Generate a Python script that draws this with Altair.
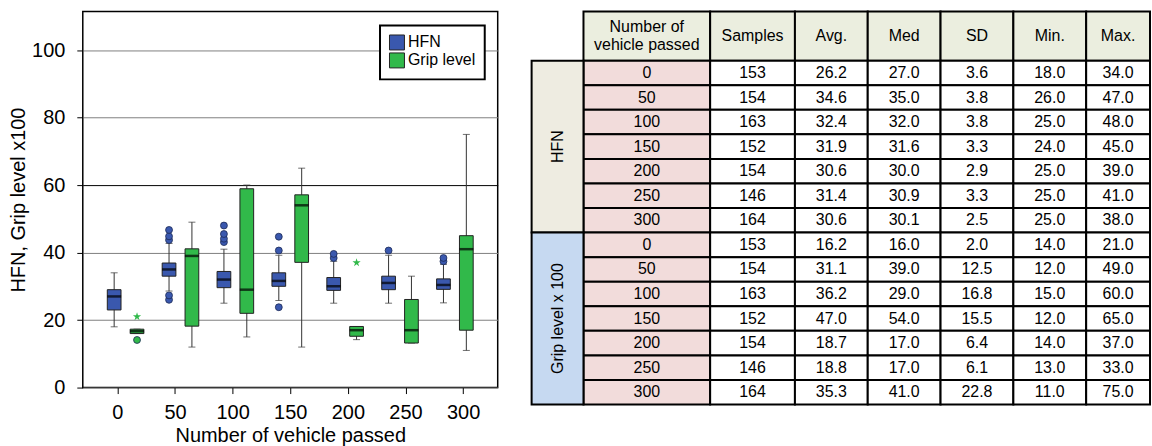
import altair as alt
import pandas as pd

# ---------------- data ----------------
vehicles = [0, 50, 100, 150, 200, 250, 300]
series_names = ["HFN", "Grip level"]
series_colors = ["#3A58AE", "#31B94A"]

# box plot statistics
hfn_q1 = [23.0, 33.0, 29.6, 30.0, 28.8, 29.0, 29.1]
hfn_q3 = [29.0, 36.9, 34.4, 34.0, 32.6, 33.0, 32.2]
hfn_median = [27.0, 35.0, 32.0, 31.6, 30.0, 31.0, 30.4]
hfn_whisk_lo = [18.0, 28.6, 25.0, 25.8, 25.0, 25.0, 25.1]
hfn_whisk_hi = [34.0, 42.7, 41.0, 39.2, 37.4, 39.2, 36.5]
hfn_outliers = [[], [26.0, 27.3, 43.7, 44.8, 46.7], [43.1, 44.1, 45.5, 48.0],
                [23.8, 40.6, 44.7], [38.4, 39.6], [40.6], [37.4, 38.4]]
hfn_extremes = [[], [], [], [], [], [], []]

grip_q1 = [16.0, 18.2, 22.0, 37.1, 15.2, 13.2, 17.0]
grip_q3 = [17.3, 41.1, 58.9, 57.1, 18.1, 26.1, 45.0]
grip_median = [16.7, 39.0, 29.0, 54.0, 17.0, 17.0, 41.0]
grip_whisk_lo = [16.0, 12.0, 15.0, 12.0, 14.2, 13.2, 11.0]
grip_whisk_hi = [17.3, 49.0, 60.0, 65.0, 18.1, 33.0, 75.0]
grip_outliers = [[14.1], [], [], [], [], [], []]
grip_extremes = [[21.0], [], [], [], [37.0], [], []]

x_tick_values = [0, 50, 100, 150, 200, 250, 300]
y_tick_values = [0, 20, 40, 60, 80, 100]

# table values
samples = [153, 154, 163, 152, 154, 146, 164]
hfn_avg = [26.2, 34.6, 32.4, 31.9, 30.6, 31.4, 30.6]
hfn_med = [27.0, 35.0, 32.0, 31.6, 30.0, 30.9, 30.1]
hfn_sd = [3.6, 3.8, 3.8, 3.3, 2.9, 3.3, 2.5]
hfn_min = [18.0, 26.0, 25.0, 24.0, 25.0, 25.0, 25.0]
hfn_max = [34.0, 47.0, 48.0, 45.0, 39.0, 41.0, 38.0]
grip_avg = [16.2, 31.1, 36.2, 47.0, 18.7, 18.8, 35.3]
grip_med = [16.0, 39.0, 29.0, 54.0, 17.0, 17.0, 41.0]
grip_sd = [2.0, 12.5, 16.8, 15.5, 6.4, 6.1, 22.8]
grip_min = [14.0, 12.0, 15.0, 12.0, 14.0, 13.0, 11.0]
grip_max = [21.0, 49.0, 60.0, 65.0, 37.0, 33.0, 75.0]
header_labels = ["Number of\nvehicle passed", "Samples", "Avg.", "Med", "SD", "Min.", "Max."]
group_labels = ["HFN", "Grip level x 100"]

# ---------------- box plot ----------------
FONT = "Liberation Sans"
box_rows, out_rows, ext_rows = [], [], []
stats = {
    "HFN": (hfn_q1, hfn_q3, hfn_median, hfn_whisk_lo, hfn_whisk_hi, hfn_outliers, hfn_extremes),
    "Grip level": (grip_q1, grip_q3, grip_median, grip_whisk_lo, grip_whisk_hi, grip_outliers, grip_extremes),
}
for i, v in enumerate(vehicles):
    for s in series_names:
        q1, q3, md, lo, hi, outs, exts = stats[s]
        box_rows.append(dict(group=v, series=s, q1=q1[i], q3=q3[i], med=md[i], lo=lo[i], hi=hi[i]))
        for o in outs[i]:
            out_rows.append(dict(group=v, series=s, val=o))
        for e in exts[i]:
            ext_rows.append(dict(group=v, series=s, val=e))
box_df = pd.DataFrame(box_rows)
out_df = pd.DataFrame(out_rows)
ext_df = pd.DataFrame(ext_rows)
tick_df = pd.DataFrame({"t": x_tick_values})

x_enc = alt.X("group:O", scale=alt.Scale(domain=vehicles, paddingOuter=0.28, paddingInner=0), axis=None)
xo_enc = alt.XOffset("series:N", scale=alt.Scale(domain=series_names, paddingInner=0.4, paddingOuter=0.4))
y_scale = alt.Scale(domain=[0, 111.4], nice=False, zero=True)
y_axis = alt.Axis(values=y_tick_values, title="HFN, Grip level x100", domain=False,
                  grid=True, gridWidth=1,
                  gridColor=alt.condition("datum.value == 60", alt.value("#000000"), alt.value("#808080")),
                  tickSize=6, tickColor="black", labelFontSize=20, labelColor="black",
                  labelPadding=12, titleFontSize=20, titleFontWeight="normal", titleColor="black",
                  titlePadding=3, labelFont=FONT, titleFont=FONT)


def yq(field):
    return alt.Y(field, type="quantitative", scale=y_scale, axis=y_axis)


legend = alt.Legend(title=None, orient="none", legendX=298, legendY=14, symbolType="square",
                    symbolSize=225, symbolStrokeColor="#222222", symbolStrokeWidth=1, symbolOpacity=1,
                    labelFontSize=16, labelFont=FONT, labelColor="black", labelOffset=3,
                    strokeColor="black", fillColor="white", padding=9, rowPadding=-4)
color_enc = alt.Color("series:N", scale=alt.Scale(domain=series_names, range=series_colors), legend=legend)

star = ("M0,-1 L0.224,-0.309 L0.951,-0.309 L0.363,0.118 L0.588,0.809 L0,0.382 "
        "L-0.588,0.809 L-0.363,0.118 L-0.951,-0.309 L-0.224,-0.309 Z")

base = alt.Chart(box_df)
whisk = base.mark_rule(color="#333333", strokeWidth=1).encode(x=x_enc, xOffset=xo_enc, y=yq("lo"), y2="hi:Q")
cap_lo = base.mark_tick(color="#333333", thickness=1, size=7).encode(x=x_enc, xOffset=xo_enc, y=yq("lo"))
cap_hi = base.mark_tick(color="#333333", thickness=1, size=7).encode(x=x_enc, xOffset=xo_enc, y=yq("hi"))
boxes = base.mark_bar(stroke="#222222", strokeWidth=1, opacity=1).encode(
    x=x_enc, xOffset=xo_enc, y=yq("q1"), y2="q3:Q", color=color_enc)
medians = base.mark_tick(color="black", thickness=2.5, size=14).encode(x=x_enc, xOffset=xo_enc, y=yq("med"))
outliers = alt.Chart(out_df).mark_point(filled=True, shape="circle", size=48, opacity=1,
                                        stroke="#1c2a55", strokeWidth=0.8).encode(
    x=x_enc, xOffset=xo_enc, y=yq("val"), color=color_enc)
extremes = alt.Chart(ext_df).mark_point(filled=True, shape=star, size=75, opacity=1).encode(
    x=x_enc, xOffset=xo_enc, y=yq("val"), color=color_enc)
axis_layer = alt.Chart(tick_df).mark_point(opacity=0, size=1).encode(
    x=alt.X("t:Q", scale=alt.Scale(domain=[-30, 330], nice=False, zero=False),
            axis=alt.Axis(values=x_tick_values, orient="bottom", title="Number of vehicle passed",
                          grid=False, domain=False, tickSize=6, tickColor="black",
                          labelFontSize=20, labelColor="black", labelPadding=9, labelFont=FONT,
                          titleFontSize=20, titleFontWeight="normal", titleColor="black",
                          titlePadding=3, titleFont=FONT)),
    y=alt.value(150))

left = alt.layer(whisk, cap_lo, cap_hi, boxes, medians, outliers, extremes, axis_layer).resolve_scale(
    x="independent").properties(width=416, height=377,
                                view=alt.ViewBackground(stroke="black", strokeWidth=1.5))

# ---------------- table ----------------
col_widths = [52, 127, 85, 73, 73, 73, 73, 64]
edges = [0]
for w in col_widths:
    edges.append(edges[-1] + w)


def cell(c0, c1, y0, y1, kind, text):
    return dict(x0=edges[c0], x1=edges[c1], y0=y0, y1=y1,
                xc=(edges[c0] + edges[c1]) / 2, yc=(y0 + y1) / 2, kind=kind, text=text)


cells = []
for j, lab in enumerate(header_labels):
    cells.append(cell(j + 1, j + 2, 0, 2, "header", lab))
groups = [
    ("hfn", samples, hfn_avg, hfn_med, hfn_sd, hfn_min, hfn_max),
    ("grip", samples, grip_avg, grip_med, grip_sd, grip_min, grip_max),
]
group_cells = []
for g, (kind, smp, av, md, sd, mn, mx) in enumerate(groups):
    top = 2 + g * 7
    group_cells.append(cell(0, 1, top, top + 7, kind, group_labels[g]))
    for i, v in enumerate(vehicles):
        r = top + i
        cells.append(cell(1, 2, r, r + 1, "veh", str(v)))
        vals = [str(smp[i]), f"{av[i]:.1f}", f"{md[i]:.1f}", f"{sd[i]:.1f}", f"{mn[i]:.1f}", f"{mx[i]:.1f}"]
        for k, t in enumerate(vals):
            cells.append(cell(2 + k, 3 + k, r, r + 1, "cell", t))
cell_df = pd.DataFrame(cells + group_cells)
all_text = pd.DataFrame(cells)
text_df = all_text[~all_text["text"].str.contains("\n")]
multi_df = all_text[all_text["text"].str.contains("\n")]
grp_df = pd.DataFrame(group_cells)

tx = alt.Scale(domain=[0, edges[-1]], nice=False, zero=False)
ty = alt.Scale(domain=[0, 16], nice=False, zero=False, reverse=True)
kind_scale = alt.Scale(domain=["header", "hfn", "grip", "veh", "cell"],
                       range=["#EBEEDF", "#EEECE1", "#C6D9F1", "#F2DCDB", "#FFFFFF"])

rects = alt.Chart(cell_df).mark_rect(stroke="black", strokeWidth=2).encode(
    x=alt.X("x0:Q", scale=tx, axis=None), x2="x1:Q",
    y=alt.Y("y0:Q", scale=ty, axis=None), y2="y1:Q",
    fill=alt.Fill("kind:N", scale=kind_scale, legend=None))
texts = alt.Chart(text_df).mark_text(fontSize=16, font=FONT, color="black",
                                     baseline="middle", align="center").encode(
    x=alt.X("xc:Q", scale=tx, axis=None), y=alt.Y("yc:Q", scale=ty, axis=None), text="text:N")
mtexts = alt.Chart(multi_df).mark_text(fontSize=16, font=FONT, color="black", lineBreak="\n",
                                       lineHeight=18, baseline="middle", align="center", dy=-9).encode(
    x=alt.X("xc:Q", scale=tx, axis=None), y=alt.Y("yc:Q", scale=ty, axis=None), text="text:N")
gtexts = alt.Chart(grp_df).mark_text(fontSize=16, font=FONT, color="black", angle=270,
                                     baseline="middle", align="center").encode(
    x=alt.X("xc:Q", scale=tx, axis=None), y=alt.Y("yc:Q", scale=ty, axis=None), text="text:N")

table = alt.layer(rects, texts, mtexts, gtexts).properties(width=edges[-1], height=394)

chart = alt.hconcat(left, table, spacing=31).properties(
    padding={"left": 7, "top": 9, "right": 0, "bottom": 0}
).configure(font=FONT).configure_view(stroke="transparent").configure_legend(strokeWidth=2)

chart.save("out.html", embed_options={"renderer": "svg", "actions": False})
